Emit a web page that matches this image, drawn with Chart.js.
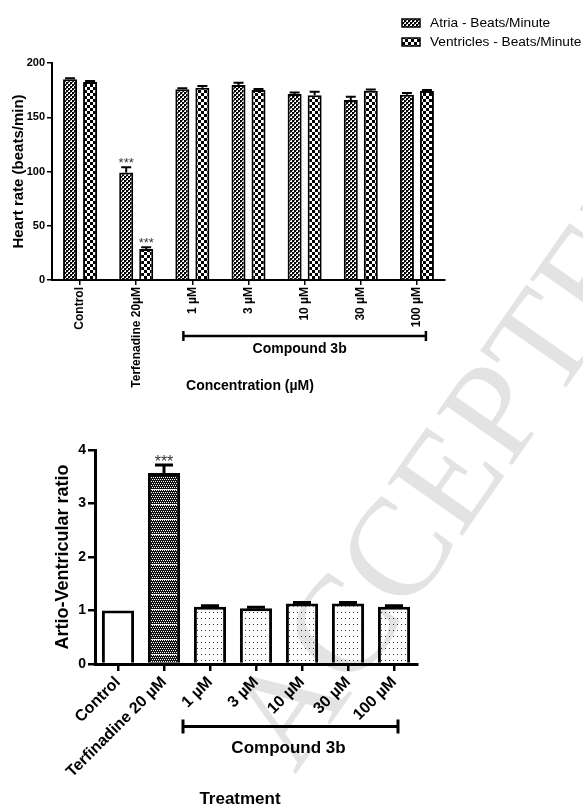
<!DOCTYPE html>
<html>
<head>
<meta charset="utf-8">
<script src="https://cdn.jsdelivr.net/npm/chart.js@4.4.1/dist/chart.umd.min.js"></script>
<style>
  html, body { margin: 0; padding: 0; background: #fff; }
  #wrap { position: relative; width: 583px; height: 807px; overflow: hidden; background: #fff; }
  #heart { position: absolute; left: 0; top: 0; }
  #ratio { position: absolute; left: 0; top: 400px; }
  #mark { position: absolute; left: 0; top: 0; pointer-events: none; }
</style>
</head>
<body>
<div id="wrap">
  <canvas id="heart" width="583" height="400"></canvas>
  <canvas id="ratio" width="583" height="407"></canvas>
  <canvas id="mark" width="583" height="807"></canvas>
</div>
<script>
// ---- Heart rate per treatment (beats/min) ----
const heartCategories = ['Control', 'Terfenadine 20\u00b5M', '1 \u00b5M', '3 \u00b5M', '10 \u00b5M', '30 \u00b5M', '100 \u00b5M'];
const atriaRate      = [185, 99, 175.8, 179.7, 171.4, 165.9, 170.8];
const atriaErr       = [1, 5, 1, 2, 1.5, 3, 1.5];
const atriaMarks     = ['', '***', '', '', '', '', ''];
const ventriclesRate = [182.5, 28.6, 177.2, 175.1, 170.2, 174.5, 174.2];
const ventriclesErr  = [1, 1.5, 1.5, 1, 3.3, 1, 1];
const ventriclesMarks = ['', '***', '', '', '', '', ''];
const heartTicks     = [0, 50, 100, 150, 200];

// ---- Atrio-ventricular ratio per treatment ----
const ratioCategories = ['Control', 'Terfinadine 20 \u00b5M', '1 \u00b5M', '3 \u00b5M', '10 \u00b5M', '30 \u00b5M', '100 \u00b5M'];
const ratioValues = [1.0, 3.57, 1.07, 1.04, 1.13, 1.13, 1.07];
const ratioErr    = [0, 0.15, 0.02, 0.02, 0.02, 0.02, 0.02];
const ratioMarks  = ['', '***', '', '', '', '', ''];
const ratioTicks  = [0, 1, 2, 3, 4];

const FONT = "'Liberation Sans', Arial, Helvetica, sans-serif";
Chart.defaults.font.family = FONT;
Chart.defaults.color = '#000';

// Tiled fills used for the bars
function makePattern(ctx, w, h, paint) {
  const c = document.createElement('canvas');
  c.width = w; c.height = h;
  const g = c.getContext('2d');
  paint(g, w, h);
  return ctx.createPattern(c, 'repeat');
}
function fineChecker(ctx) {
  return makePattern(ctx, 4, 4, (g) => {
    g.fillStyle = '#fff'; g.fillRect(0, 0, 4, 4);
    g.fillStyle = '#000'; g.fillRect(0, 0, 2, 2); g.fillRect(2, 2, 2, 2);
    g.fillStyle = '#555'; g.fillRect(2, 0, 1, 1); g.fillRect(0, 2, 1, 1);
  });
}
function coarseChecker(ctx) {
  return makePattern(ctx, 6, 6, (g) => {
    g.fillStyle = '#fff'; g.fillRect(0, 0, 6, 6);
    g.fillStyle = '#000'; g.fillRect(0, 0, 3, 3); g.fillRect(3, 3, 3, 3);
  });
}
function darkScreen(ctx) {
  return makePattern(ctx, 4, 15, (g) => {
    g.fillStyle = '#111'; g.fillRect(0, 0, 4, 15);
    g.fillStyle = '#fff';
    for (let r = 0; r < 13; r += 2) {
      const off = (r / 2) % 2 === 0 ? 0 : 1;
      g.fillRect(off, r, 1, 1); g.fillRect(off + 2, r, 1, 1);
    }
    g.fillStyle = '#f4f4f4'; g.fillRect(0, 14, 4, 1);
  });
}
function sparseDots(ctx) {
  return makePattern(ctx, 4, 6, (g) => {
    g.fillStyle = '#fff'; g.fillRect(0, 0, 4, 6);
    g.fillStyle = '#333'; g.fillRect(1, 2, 1, 1);
  });
}

// Upward error bars and significance marks, positioned with the value scale
const errorBars = {
  id: 'errorBars',
  afterDatasetsDraw(chart, args, o) {
    const { ctx } = chart;
    const y = chart.scales.y;
    chart.data.datasets.forEach((ds, di) => {
      const meta = chart.getDatasetMeta(di);
      meta.data.forEach((bar, i) => {
        const err = ds.errors ? ds.errors[i] : 0;
        const top = y.getPixelForValue(ds.data[i] + err);
        ctx.save();
        if (err > 0) {
          ctx.strokeStyle = '#000';
          ctx.lineWidth = o.width;
          ctx.beginPath();
          ctx.moveTo(bar.x, bar.y);
          ctx.lineTo(bar.x, top);
          ctx.moveTo(bar.x - o.cap / 2, top);
          ctx.lineTo(bar.x + o.cap / 2, top);
          ctx.stroke();
        }
        const mark = ds.marks ? ds.marks[i] : '';
        if (mark) {
          ctx.fillStyle = o.markColor;
          ctx.font = o.markFont;
          ctx.textAlign = 'center';
          ctx.textBaseline = 'alphabetic';
          ctx.fillText(mark, bar.x, top + o.markShift);
        }
        ctx.restore();
      });
    });
  }
};

// Legend with patterned swatches
const swatchLegend = {
  id: 'swatchLegend',
  afterDraw(chart, args, o) {
    if (!o || !o.show) return;
    const { ctx } = chart;
    chart.data.datasets.forEach((ds, i) => {
      const yc = o.y + i * o.gap;
      ctx.save();
      ctx.fillStyle = ds.backgroundColor;
      ctx.fillRect(o.x, yc - o.h / 2, o.w, o.h);
      ctx.strokeStyle = '#000';
      ctx.lineWidth = 1.5;
      ctx.strokeRect(o.x, yc - o.h / 2, o.w, o.h);
      ctx.fillStyle = '#000';
      ctx.font = o.font;
      ctx.textAlign = 'left';
      ctx.textBaseline = 'middle';
      ctx.fillText(ds.label, o.x + o.w + o.textGap, yc);
      ctx.restore();
    });
  }
};

// Bracket grouping the compound doses, plus the axis caption below it
const groupBracket = {
  id: 'groupBracket',
  afterDraw(chart, args, o) {
    const { ctx } = chart;
    const x = chart.scales.x;
    const x0 = x.getPixelForValue(o.first) - o.padLeft;
    const x1 = x.getPixelForValue(o.last) + o.padRight;
    ctx.save();
    ctx.strokeStyle = '#000';
    ctx.lineWidth = o.width;
    ctx.beginPath();
    ctx.moveTo(x0, o.y); ctx.lineTo(x1, o.y);
    ctx.moveTo(x0, o.y - o.cap); ctx.lineTo(x0, o.y + o.cap);
    ctx.moveTo(x1, o.y - o.cap); ctx.lineTo(x1, o.y + o.cap);
    ctx.stroke();
    ctx.fillStyle = '#000';
    ctx.textAlign = 'center';
    ctx.textBaseline = 'middle';
    ctx.font = o.font;
    ctx.fillText(o.label, (x0 + x1) / 2 + o.labelShift, o.labelY);
    ctx.font = o.titleFont;
    ctx.fillText(o.title, o.titleX, o.titleY);
    ctx.restore();
  }
};

// ---- Top chart: heart rate ----
const heartCtx = document.getElementById('heart').getContext('2d');
new Chart(heartCtx, {
  type: 'bar',
  data: {
    labels: heartCategories,
    datasets: [
      { label: 'Atria - Beats/Minute', data: atriaRate, errors: atriaErr, marks: atriaMarks,
        backgroundColor: fineChecker(heartCtx), borderColor: '#000', borderWidth: 2 },
      { label: 'Ventricles - Beats/Minute', data: ventriclesRate, errors: ventriclesErr, marks: ventriclesMarks,
        backgroundColor: coarseChecker(heartCtx), borderColor: '#000', borderWidth: 2 }
    ]
  },
  options: {
    responsive: false,
    animation: false,
    devicePixelRatio: 1,
    layout: { padding: { left: 0, top: 63, right: 138, bottom: 0 } },
    datasets: { bar: { categoryPercentage: 0.713, barPercentage: 0.7 } },
    plugins: {
      legend: { display: false },
      tooltip: { enabled: false },
      errorBars: { width: 2, cap: 10, markColor: '#333', markFont: '13px ' + FONT, markShift: 0 },
      swatchLegend: { show: true, x: 402, y: 23, gap: 19, w: 18, h: 8, textGap: 10, font: '13.7px ' + FONT },
      groupBracket: {
        first: 2, last: 6, padLeft: 9, padRight: 9, y: 336, cap: 5, width: 2.5,
        label: 'Compound 3b', labelShift: -5, labelY: 349, font: 'bold 14px ' + FONT,
        title: 'Concentration (\u00b5M)', titleX: 250, titleY: 386, titleFont: 'bold 14px ' + FONT
      }
    },
    scales: {
      x: {
        offset: true,
        grid: { offset: false, drawOnChartArea: false, color: '#000', tickLength: 5, lineWidth: 1.5 },
        border: { color: '#000', width: 2 },
        ticks: { minRotation: 90, maxRotation: 90, autoSkip: false, padding: 2, color: '#000',
                 font: { size: 12, weight: 'bold' } },
        afterFit(s) { s.height = 120; }
      },
      y: {
        min: 0, max: 200,
        afterBuildTicks(s) { s.ticks = heartTicks.map(v => ({ value: v })); },
        grid: { drawOnChartArea: false, color: '#000', tickLength: 5, lineWidth: 1.5 },
        border: { color: '#000', width: 2 },
        ticks: { padding: 2, color: '#000', font: { size: 11, weight: 'bold' } },
        title: { display: true, text: 'Heart rate (beats/min)', color: '#000',
                 font: { size: 15, weight: 'bold' }, padding: { top: 10, bottom: 10 } },
        afterFit(s) { s.width = 52; }
      }
    }
  },
  plugins: [errorBars, swatchLegend, groupBracket]
});

// ---- Bottom chart: atrio-ventricular ratio ----
const ratioCtx = document.getElementById('ratio').getContext('2d');
const dots = sparseDots(ratioCtx);
new Chart(ratioCtx, {
  type: 'bar',
  data: {
    labels: ratioCategories,
    datasets: [
      { label: 'Artio-Ventricular ratio', data: ratioValues, errors: ratioErr, marks: ratioMarks,
        backgroundColor: ['#fff', darkScreen(ratioCtx), dots, dots, dots, dots, dots],
        borderColor: '#000', borderWidth: 3 }
    ]
  },
  options: {
    responsive: false,
    animation: false,
    devicePixelRatio: 1,
    layout: { padding: { left: 0, top: 50, right: 166, bottom: 0 } },
    datasets: { bar: { categoryPercentage: 1, barPercentage: 0.7 } },
    plugins: {
      legend: { display: false },
      tooltip: { enabled: false },
      errorBars: { width: 3, cap: 18, markColor: '#333', markFont: '16px ' + FONT, markShift: 2 },
      swatchLegend: { show: false },
      groupBracket: {
        first: 2, last: 6, padLeft: 27, padRight: 4, y: 326.5, cap: 7, width: 3,
        label: 'Compound 3b', labelShift: -2, labelY: 348, font: 'bold 17px ' + FONT,
        title: 'Treatment', titleX: 240, titleY: 399, titleFont: 'bold 17px ' + FONT
      }
    },
    scales: {
      x: {
        offset: true,
        grid: { offset: false, drawOnChartArea: false, color: '#000', tickLength: 7, lineWidth: 2.5 },
        border: { color: '#000', width: 3 },
        ticks: { minRotation: 45, maxRotation: 45, autoSkip: false, padding: 2, color: '#000',
                 font: { size: 16, weight: 'bold' } },
        afterFit(s) { s.height = 143; }
      },
      y: {
        min: 0, max: 4,
        afterBuildTicks(s) { s.ticks = ratioTicks.map(v => ({ value: v })); },
        grid: { drawOnChartArea: false, color: '#000', tickLength: 7, lineWidth: 2.5 },
        border: { color: '#000', width: 3 },
        ticks: { padding: 2, color: '#000', font: { size: 14, weight: 'bold' } },
        title: { display: true, text: 'Artio-Ventricular ratio', color: '#000',
                 font: { size: 18, weight: 'bold' }, padding: { top: 52, bottom: 52 } },
        afterFit(s) { s.width = 95; }
      }
    }
  },
  plugins: [errorBars, groupBracket]
});

// ---- Faint diagonal stamp across the page ----
const m = document.getElementById('mark').getContext('2d');
m.save();
m.translate(295, 775);
m.rotate(-55 * Math.PI / 180);
m.font = '140px "Liberation Serif", "DejaVu Serif", serif';
m.fillStyle = 'rgba(0,0,0,0.11)';
m.fillText('ACCEPTED MANUSCRIPT', 0, 0);
m.restore();
</script>
</body>
</html>
